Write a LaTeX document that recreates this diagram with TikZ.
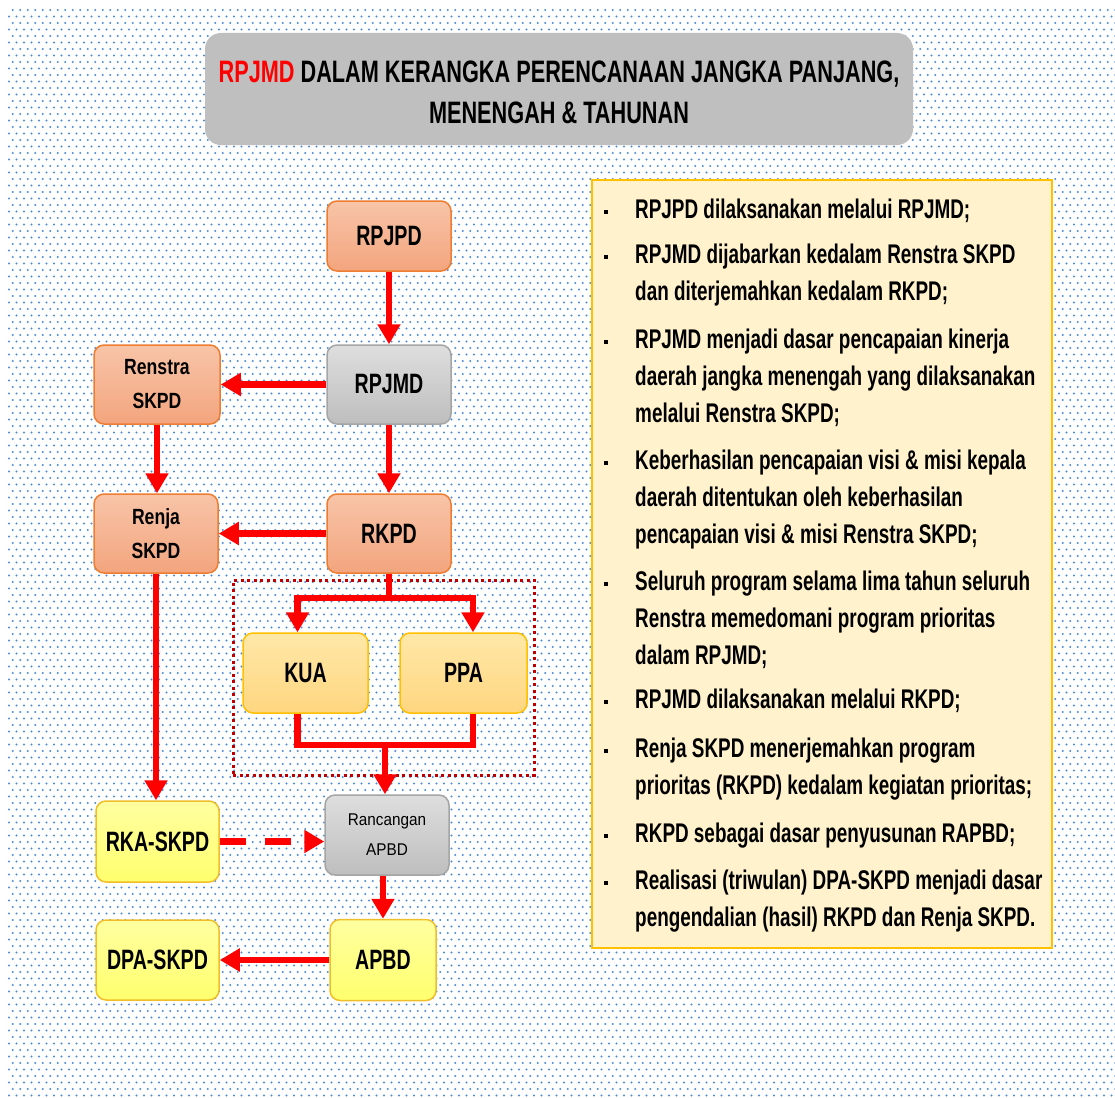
\documentclass[tikz,border=0pt]{standalone}
\usepackage{fontspec}
\setmainfont{Liberation Sans}[FakeStretch=0.7]
\newfontfamily\midfont{Liberation Sans}[FakeStretch=0.8]
\newfontfamily\widefont{Liberation Sans}[FakeStretch=0.9]
\usetikzlibrary{arrows.meta,patterns}
\definecolor{dotblue}{RGB}{80,140,215}
\definecolor{titlegray}{RGB}{191,191,191}
\definecolor{salmontop}{RGB}{248,196,168}
\definecolor{salmonbot}{RGB}{243,165,126}
\definecolor{salmonline}{RGB}{237,125,49}
\definecolor{graytop}{RGB}{222,222,222}
\definecolor{graybot}{RGB}{190,190,190}
\definecolor{grayline}{RGB}{165,165,165}
\definecolor{kuatop}{RGB}{255,232,168}
\definecolor{kuabot}{RGB}{255,214,128}
\definecolor{goldline}{RGB}{255,192,0}
\definecolor{yeltop}{RGB}{255,255,160}
\definecolor{yelbot}{RGB}{255,255,110}
\definecolor{yelline}{RGB}{240,190,40}
\definecolor{notesfill}{RGB}{255,242,204}
\definecolor{darkred}{RGB}{192,0,0}
\definecolor{arrowred}{RGB}{255,0,0}
\pgfdeclarepatternformonly{bgdots}{\pgfqpoint{-1pt}{-1pt}}{\pgfqpoint{8.5pt}{14pt}}{\pgfqpoint{7.5pt}{13pt}}{%
  \pgfpathcircle{\pgfqpoint{1.5pt}{1.5pt}}{1.15pt}%
  \pgfpathcircle{\pgfqpoint{5.25pt}{8pt}}{1.15pt}%
  \pgfusepath{fill}}
\newcommand{\bul}{\llap{\rule[5pt]{4pt}{4pt}\hspace{27pt}}}
\tikzset{
  boxbase/.style={rounded corners=10pt, inner sep=0pt, line width=1.5pt, align=center,
    font=\fontsize{28}{34}\selectfont\bfseries},
  salmonbox/.style={boxbase, draw=salmonline, top color=salmontop, bottom color=salmonbot},
  graybox/.style={boxbase, draw=grayline, top color=graytop, bottom color=graybot},
  kuabox/.style={boxbase, draw=goldline, top color=kuatop, bottom color=kuabot},
  yelbox/.style={boxbase, draw=yelline, top color=yeltop, bottom color=yelbot},
  twoline/.style={font=\midfont\fontsize{22}{34}\selectfont\bfseries},
  arr/.style={draw=arrowred, line width=6.5pt, -{Triangle[length=20pt,width=22pt]}},
  plainline/.style={draw=arrowred, line width=6.5pt},
  dasharr/.style={arr, dash pattern=on 26pt off 19pt},
  titlebox/.style={fill=titlegray, rounded corners=16pt, inner sep=0pt},
  titletext/.style={align=center, inner sep=0pt, font=\fontsize{31}{41}\selectfont\bfseries},
  notesbox/.style={fill=notesfill, draw=goldline, line width=2.5pt, inner sep=0pt},
  notestext/.style={align=left, inner sep=0pt, font=\fontsize{27}{37}\selectfont\bfseries},
  groupframe/.style={draw=darkred, line width=3pt, dash pattern=on 3pt off 3.5pt}
}
\begin{document}
\begin{tikzpicture}[x=1pt,y=-1pt]
\useasboundingbox (0,0) rectangle (1115,1097);
\fill[white] (0,0) rectangle (1115,1097);
\fill[pattern=bgdots, pattern color=dotblue] (7,8) rectangle (1115,1097);

% title
\node[titlebox, minimum width=708pt, minimum height=112pt] (titlebox) at (559,89) {};
\node[titletext] (title) at (559,92) {\textcolor{arrowred}{RPJMD} DALAM KERANGKA PERENCANAAN JANGKA PANJANG,\\MENENGAH \& TAHUNAN};

% notes box
\node[notesbox, minimum width=460pt, minimum height=768pt] (notesbox) at (822,564) {};
\node[notestext, anchor=north west] (notes) at (635,199) {%
\bul RPJPD dilaksanakan melalui RPJMD;\\[8pt]
\bul RPJMD dijabarkan kedalam Renstra SKPD\\
dan diterjemahkan kedalam RKPD;\\[11pt]
\bul RPJMD menjadi dasar pencapaian kinerja\\
daerah jangka menengah yang dilaksanakan\\
melalui Renstra SKPD;\\[10pt]
\bul Keberhasilan pencapaian visi \& misi kepala\\
daerah ditentukan oleh keberhasilan\\
pencapaian visi \& misi Renstra SKPD;\\[10pt]
\bul Seluruh program selama lima tahun seluruh\\
Renstra memedomani program prioritas\\
dalam RPJMD;\\[7pt]
\bul RPJMD dilaksanakan melalui RKPD;\\[12pt]
\bul Renja SKPD menerjemahkan program\\
prioritas (RKPD) kedalam kegiatan prioritas;\\[11pt]
\bul RKPD sebagai dasar penyusunan RAPBD;\\[10pt]
\bul Realisasi (triwulan) DPA-SKPD menjadi dasar\\
pengendalian (hasil) RKPD dan Renja SKPD.};

% group frame
\node[groupframe, minimum width=301pt, minimum height=195pt, inner sep=0pt] (group) at (383.5,677.5) {};

% nodes
\node[salmonbox, minimum width=124pt, minimum height=70pt] (rpjpd) at (389,236) {RPJPD};
\node[graybox, minimum width=124pt, minimum height=79pt] (rpjmd) at (389,384.5) {RPJMD};
\node[salmonbox, twoline, minimum width=126pt, minimum height=79pt] (renstra) at (157,384.5) {Renstra\\SKPD};
\node[salmonbox, twoline, minimum width=124pt, minimum height=79pt] (renja) at (156,533.5) {Renja\\SKPD};
\node[salmonbox, minimum width=124pt, minimum height=79pt] (rkpd) at (389,533.5) {RKPD};
\node[kuabox, minimum width=125pt, minimum height=80pt] (kua) at (305.5,673) {KUA};
\node[kuabox, minimum width=127pt, minimum height=80pt] (ppa) at (463.5,673) {PPA};
\node[yelbox, minimum width=123pt, minimum height=81pt] (rka) at (157.5,841.5) {RKA-SKPD};
\node[graybox, font=\widefont\fontsize{17}{30}\selectfont, minimum width=124pt, minimum height=80pt] (ranc) at (387,835) {Rancangan\\APBD};
\node[yelbox, minimum width=123pt, minimum height=80pt] (dpa) at (157.5,960) {DPA-SKPD};
\node[yelbox, minimum width=106pt, minimum height=81pt] (apbd) at (383,960) {APBD};

\coordinate (split) at (389,598);
\coordinate (merge) at (385,745);

% connectors
\draw[arr] (rpjpd.south) -- (rpjmd.north);
\draw[arr] (rpjmd.west) -- (renstra.east);
\draw[arr] (renstra.south) -- (renstra.south |- renja.north);
\draw[arr] (rpjmd.south) -- (rkpd.north);
\draw[arr] (rkpd.west) -- (renja.east);
\draw[plainline] (rkpd.south) -- (split);
\draw[arr] (split) -| ([xshift=-8pt]kua.north);
\draw[arr] (split) -| ([xshift=9.5pt]ppa.north);
\draw[plainline] ([xshift=-8pt]kua.south) |- (merge) -| ([xshift=9.5pt]ppa.south);
\draw[arr] (merge) -- (merge |- ranc.north);
\draw[arr] (renja.south) -- (renja.south |- rka.north);
\draw[dasharr] (rka.east) -- (rka.east -| ranc.west);
\draw[arr] (ranc.south -| apbd.north) -- (apbd.north);
\draw[arr] (apbd.west) -- (dpa.east);
\end{tikzpicture}
\end{document}
